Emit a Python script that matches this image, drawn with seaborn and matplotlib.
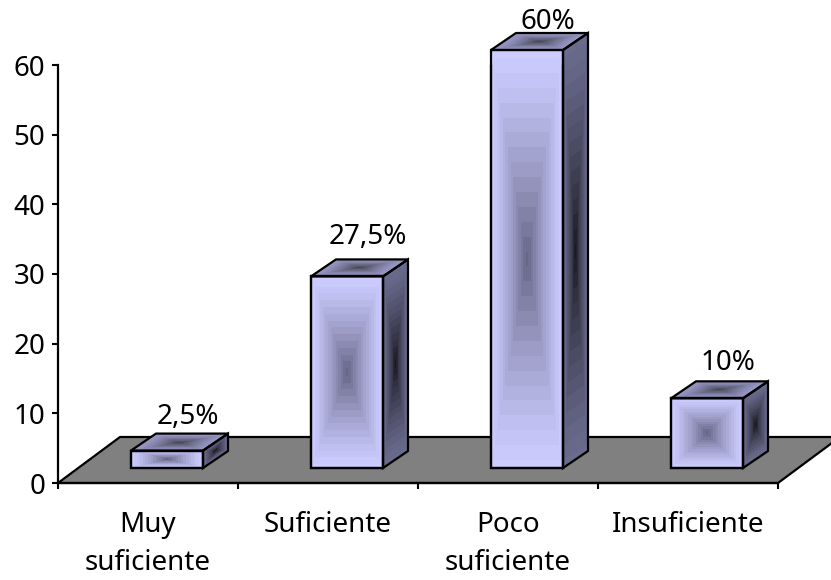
import numpy as np
import pandas as pd
import matplotlib
matplotlib.use("Agg")
import matplotlib.pyplot as plt
from matplotlib.patches import Polygon
from matplotlib.transforms import Affine2D
import seaborn as sns

categories = ["Muy\nsuficiente", "Suficiente", "Poco\nsuficiente", "Insuficiente"]
values = [2.5, 27.5, 60, 10]
value_labels = ["2,5%", "27,5%", "60%", "10%"]
label_gaps_px = [10, 15, 4, 11]

FONT = "Noto Sans"
W, H = 831, 580
AX_L, AX_R, AX_T, AX_B = 58, 778, 65, 483
DPI = 100

sns.set_theme(style="white")
plt.rcParams["font.family"] = FONT

fig = plt.figure(figsize=(W / DPI, H / DPI), dpi=DPI, facecolor="white")
ax = fig.add_axes([AX_L / W, 1 - AX_B / H, (AX_R - AX_L) / W, (AX_B - AX_T) / H])

# Pixel-to-data scale factors for the oblique projection
sx = 4 / (AX_R - AX_L)
sy = 60 / (AX_B - AX_T)
floor_dx, floor_dy = 62 * sx, 46 * sy
depth_dx, depth_dy = 25 * sx, 17 * sy
front_dx, front_dy = 19 * sx, 15 * sy

# Front faces come from the bar plot, lifted onto the floor
df = pd.DataFrame({"categoria": categories, "valor": values})
sns.barplot(data=df, x="categoria", y="valor", ax=ax, width=0.4, color="#C8C8FF",
            saturation=1, bottom=front_dy, edgecolor="black", linewidth=1.6, zorder=5)


def face_colors(outer, inner, rows, cols, levels=14):
    v = np.linspace(-1, 1, rows)[:, None]
    u = np.linspace(-1, 1, cols)[None, :]
    t = 1 - np.maximum(np.abs(u), np.abs(v))
    t = np.round(t * levels) / levels
    outer, inner = np.array(outer), np.array(inner)
    rgb = outer + (inner - outer) * t[..., None] ** 1.35
    return np.dstack([rgb, np.ones(rgb.shape[:2])])


def draw_face(origin, e1, e2, outer, inner, rows, cols, z):
    m = Affine2D.from_values(e1[0], e1[1], e2[0], e2[1], origin[0], origin[1])
    im = ax.imshow(face_colors(outer, inner, rows, cols), extent=(0, 1, 0, 1), origin="lower",
                   transform=m + ax.transData, aspect="auto", interpolation="nearest", zorder=z)
    corners = [origin, (origin[0] + e1[0], origin[1] + e1[1]),
               (origin[0] + e1[0] + e2[0], origin[1] + e1[1] + e2[1]),
               (origin[0] + e2[0], origin[1] + e2[1])]
    outline = Polygon(corners, closed=True, fill=False, edgecolor="black", lw=1.6,
                      zorder=z + 1, clip_on=False)
    ax.add_patch(outline)
    im.set_clip_path(outline)
    im.set_clip_box(fig.bbox)


FRONT = ((0.80, 0.80, 1.0), (0.40, 0.40, 0.53))
SIDE = ((0.42, 0.42, 0.56), (0.10, 0.10, 0.13))
TOP = ((0.60, 0.60, 0.78), (0.27, 0.27, 0.33))

for bar, val, label, gap in zip(ax.patches, values, value_labels, label_gaps_px):
    x0 = bar.get_x() + front_dx
    bw = bar.get_width()
    y0 = front_dy
    rows = max(int(val / sy), 8)
    bar.set_x(x0)
    bar.set_facecolor("none")
    draw_face((x0, y0), (bw, 0), (0, val), *FRONT, rows, 72, 3)
    draw_face((x0 + bw, y0), (depth_dx, depth_dy), (0, val), *SIDE, rows, 25, 3)
    draw_face((x0, y0 + val), (bw, 0), (depth_dx, depth_dy), *TOP, 17, 72, 3)
    ax.text(x0 + bw / 2 + depth_dx / 2 + 8 * sx, y0 + val + depth_dy + gap * sy, label,
            ha="center", va="baseline", fontsize=20, color="black", clip_on=False, zorder=8)

ax.set_xlim(-0.5, 3.5)
ax.set_ylim(0, 60)

# Floor plane behind the bars
ax.add_patch(Polygon([(-0.5, 0), (3.5, 0), (3.5 + floor_dx, floor_dy), (-0.5 + floor_dx, floor_dy)],
                     closed=True, facecolor="#808080", edgecolor="black", lw=1.6,
                     zorder=1, clip_on=False))

ax.set_xlabel("")
ax.set_ylabel("")
ax.set_yticks(range(0, 61, 10))
ax.set_xticks(np.arange(-0.5, 3.6, 1))
ax.set_xticklabels([])
ax.set_xticks(range(4), categories, minor=True)
ax.tick_params(axis="x", which="minor", length=0, pad=20, labelsize=20, labelcolor="black")
ax.tick_params(axis="x", which="major", length=4, width=1.5, direction="out", bottom=True, color="black")
ax.tick_params(axis="y", length=4, width=1.5, direction="out", left=True, labelsize=20, pad=5,
               labelcolor="black", color="black")
for lab in ax.get_xticklabels(minor=True):
    lab.set_linespacing(1.5)
for s in ("top", "right"):
    ax.spines[s].set_visible(False)
for s in ("left", "bottom"):
    ax.spines[s].set_linewidth(1.6)
    ax.spines[s].set_color("black")
    ax.spines[s].set_zorder(6)

fig.savefig("out.png", dpi=DPI, facecolor="white")
